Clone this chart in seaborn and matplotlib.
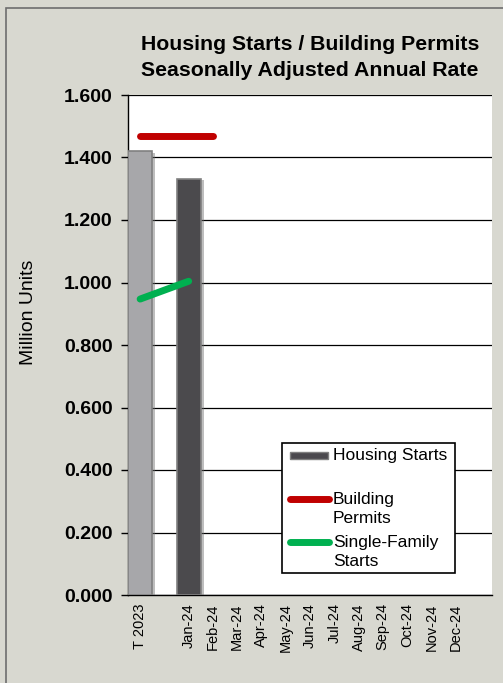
import numpy as np
import pandas as pd
import matplotlib
matplotlib.use("Agg")
import matplotlib.pyplot as plt
import matplotlib.patheffects as pe
from matplotlib.lines import Line2D
from matplotlib.patches import Rectangle
import seaborn as sns

# ---------- data ----------
categories = ["T 2023", "", "Jan-24", "Feb-24", "Mar-24", "Apr-24", "May-24", "Jun-24",
              "Jul-24", "Aug-24", "Sep-24", "Oct-24", "Nov-24", "Dec-24", ""]
housing_starts = [1.420, np.nan, 1.331] + [np.nan] * 12
building_permits = [1.470, np.nan, 1.470, 1.470] + [np.nan] * 11
single_family = [0.947, np.nan, 1.004] + [np.nan] * 12
bar_colors = ["#A7A6AB", "#A7A6AB", "#4B494E"] + ["#4B494E"] * 12
legend_labels = ["Housing Starts", "Building\nPermits", "Single-Family\nStarts"]
# -----------------------------------------

sns.set_style("white")
plt.rcParams["font.family"] = ["Liberation Sans", "DejaVu Sans"]
plt.rcParams.update({"text.color": "black", "axes.labelcolor": "black",
                     "xtick.color": "black", "ytick.color": "black"})

bg = "#D8D8D0"
red, green, dark = "#C00000", "#00B050", "#4B494E"
keys = [f"c{i}" for i in range(len(categories))]
df = pd.DataFrame({"key": keys, "starts": housing_starts})
pos = np.arange(len(categories))

fig = plt.figure(figsize=(5.03, 6.83), dpi=100, facecolor=bg)
fig.patches.append(Rectangle((6 / 503, -0.1), 1.1, 1 - 8 / 683 + 0.1, transform=fig.transFigure,
                             facecolor="none", edgecolor="#6E6E6E", lw=1.2))
ax = fig.add_axes([128 / 503, 1 - 595 / 683, 364 / 503, 500 / 683])
ax.set_facecolor("white")

sns.barplot(data=df, x="key", y="starts", hue="key", palette=bar_colors, order=keys,
            hue_order=keys, width=1.0, edgecolor="#808080", linewidth=1.2,
            legend=False, ax=ax, zorder=3)
for p in ax.patches:
    p.set_path_effects([pe.SimplePatchShadow(offset=(2, -1), shadow_rgbFace="#707070", alpha=0.45),
                        pe.Normal()])

lw = 5
perm = pd.Series(building_permits)
sns.lineplot(x=pos[perm.notna()], y=perm.dropna(), color=red, lw=lw,
             solid_capstyle="round", ax=ax, zorder=4)
sf = pd.Series(single_family)
sns.lineplot(x=pos[sf.notna()], y=sf.dropna(), color=green, lw=lw,
             solid_capstyle="round", ax=ax, zorder=4)

ax.set_xlim(-0.5, len(categories) - 0.5)
ax.set_ylim(0, 1.6)
yt = np.arange(0, 1.61, 0.2)
ax.set_yticks(yt)
ax.set_yticklabels([f"{v:.3f}" for v in yt], fontweight="bold", fontsize=14)
ax.yaxis.grid(True, color="black", lw=0.9)
ax.set_axisbelow(True)
ax.set_xticks(pos)
ax.set_xticklabels(categories, rotation=90, fontsize=10.5)
ax.set_xticks(np.arange(-0.5, len(categories)), minor=True)
ax.tick_params(axis="x", which="major", length=0, pad=6)
ax.tick_params(axis="x", which="minor", length=5, width=1, color="black", direction="out")
ax.tick_params(axis="y", length=5, width=1, color="black", direction="out", pad=6, left=True)
for s in ["top", "right"]:
    ax.spines[s].set_visible(False)
for s in ["left", "bottom"]:
    ax.spines[s].set_color("black")
    ax.spines[s].set_linewidth(1)
ax.set_xlabel("")
ax.set_ylabel("Million Units", fontsize=14)
ax.yaxis.set_label_coords(-0.25, 0.566)

ax.set_title("Housing Starts / Building Permits\nSeasonally Adjusted Annual Rate",
             fontweight="bold", fontsize=15.3, pad=14, linespacing=1.42)

# legend drawn by hand so the keys line up with the first text line (as in Excel)
def axc(px, py):
    return (px - 128) / 364, (595 - py) / 500

x0, y0 = axc(282, 573)
x1, y1 = axc(455, 443)
ax.add_patch(Rectangle((x0, y0), x1 - x0, y1 - y0, transform=ax.transAxes, facecolor="white",
                       edgecolor="black", lw=1.2, zorder=10))
px, py = axc(290, 459)
pw, ph = axc(328, 452)
ax.add_patch(Rectangle((px, py), pw - px, ph - py, transform=ax.transAxes, facecolor=dark,
                       edgecolor="#808080", lw=1, zorder=11))
for col, yy in [(red, 499), (green, 542)]:
    lx0, ly = axc(290, yy)
    lx1, _ = axc(329, yy)
    ax.add_line(Line2D([lx0, lx1], [ly, ly], transform=ax.transAxes, color=col, lw=lw,
                       solid_capstyle="round", zorder=11))
for lab, yy in zip(legend_labels, [455, 499, 542]):
    tx, ty = axc(333, yy - 7)
    ax.text(tx, ty, lab, transform=ax.transAxes, fontsize=12.5, va="top", ha="left",
            linespacing=1.3, zorder=12)

fig.savefig("out.png", dpi=100, facecolor=bg)
